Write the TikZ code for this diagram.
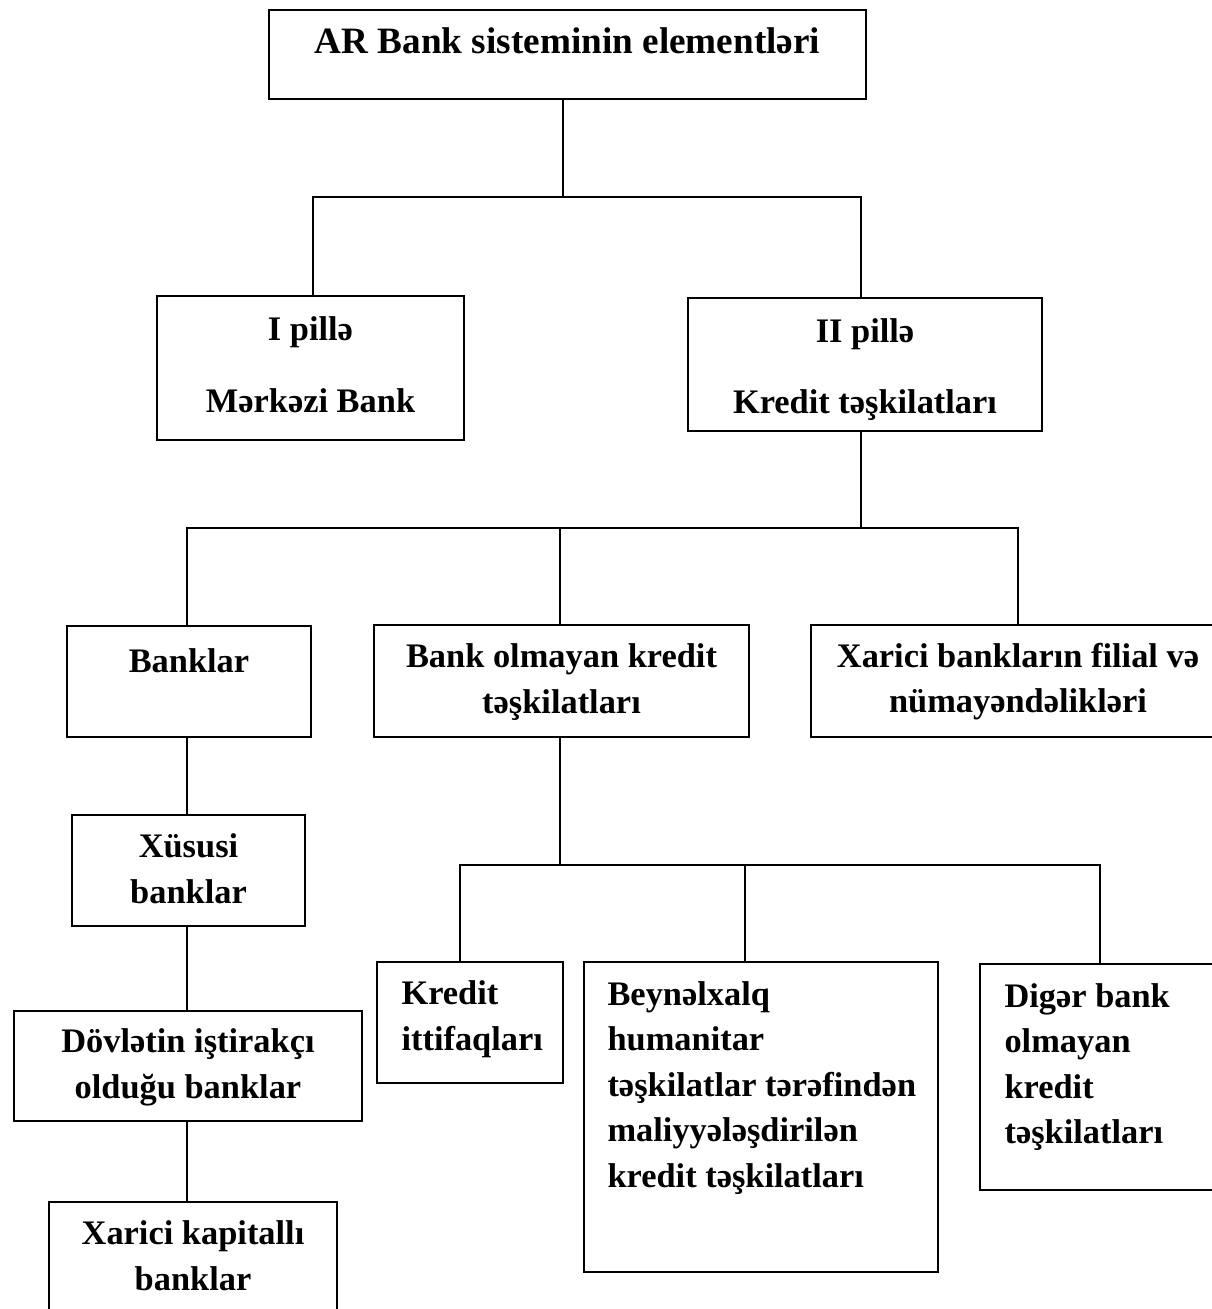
\documentclass[tikz,border=0pt]{standalone}
\usepackage{fontspec}
\setmainfont{Liberation Serif}
\begin{document}
\begin{tikzpicture}[x=1pt,y=-1pt,
        box/.style = {draw,line width=2pt,inner sep=0pt},
        txt/.style = {font=\bfseries\fontsize{34.4}{45.5}\selectfont,align=center,anchor=base},
        ltxt/.style = {font=\bfseries\fontsize{34.4}{45.5}\selectfont,align=left,anchor=base west},
        link/.style = {line width=1.5pt}]
    \clip (0,0) rectangle (1212,1309);

    \node[box,minimum width=597pt,minimum height=89pt]  (top)     at (567.5,54.5) {};
    \node[box,minimum width=307pt,minimum height=144pt] (p1)      at (310.5,368)  {};
    \node[box,minimum width=354pt,minimum height=133pt] (p2)      at (865,364.5)  {};
    \node[box,minimum width=244pt,minimum height=111pt] (banks)   at (189,681.5)  {};
    \node[box,minimum width=375pt,minimum height=112pt] (nonbank) at (561.5,681)  {};
    \node[box,minimum width=414pt,minimum height=112pt] (foreign) at (1018,681)   {};
    \node[box,minimum width=233pt,minimum height=111pt] (private) at (188.5,870.5) {};
    \node[box,minimum width=348pt,minimum height=110pt] (state)   at (188,1066)   {};
    \node[box,minimum width=288pt,minimum height=128pt] (fcap)    at (193,1266)   {};
    \node[box,minimum width=186pt,minimum height=121pt] (union)   at (470,1022.5) {};
    \node[box,minimum width=354pt,minimum height=310pt] (intl)    at (761,1117)   {};
    \node[box,minimum width=250pt,minimum height=226pt] (other)   at (1105,1077)  {};

    % text nodes sit on the baseline of their last line
    \node[txt,font=\bfseries\fontsize{37.2}{45.5}\selectfont] (top-t) at (567.5,53) {AR Bank sisteminin elementləri};
    \node[txt] (p1-t)      at (310.5,412) {I pillə\\[26.5pt]Mərkəzi Bank};
    \node[txt] (p2-t)      at (865,413)   {II pillə\\[25.5pt]Kredit təşkilatları};
    \node[txt] (banks-t)   at (189,672)   {Banklar};
    \node[txt] (nonbank-t) at (561.5,713) {Bank olmayan kredit\\təşkilatları};
    \node[txt] (foreign-t) at (1018,712.5) {Xarici bankların filial və\\nümayəndəlikləri};
    \node[txt] (private-t) at (188.5,903) {Xüsusi\\banklar};
    \node[txt] (state-t)   at (188,1098)  {Dövlətin iştirakçı\\olduğu banklar};
    \node[txt] (fcap-t)    at (193,1290)  {Xarici kapitallı\\banklar};
    \node[ltxt] (union-t)  at (398,1050)  {Kredit\\ittifaqları};
    \node[ltxt] (intl-t)   at (604,1187)  {Beynəlxalq\\humanitar\\təşkilatlar tərəfindən\\maliyyələşdirilən\\kredit təşkilatları};
    \node[ltxt] (other-t)  at (1001,1143.5) {Digər bank\\olmayan\\kredit\\təşkilatları};

    \coordinate (j1)  at (563,197);
    \coordinate (j1l) at (313,197);
    \coordinate (j1r) at (861,197);
    \draw[link] (top.south -| j1) -- (j1);
    \draw[link] (p1.north -| j1l) -- (j1l) -- (j1r) -- (p2.north -| j1r);

    \coordinate (j2)  at (861,528);
    \coordinate (j2l) at (187,528);
    \coordinate (j2m) at (560,528);
    \coordinate (j2r) at (1018,528);
    \draw[link] (p2.south -| j2) -- (j2);
    \draw[link] (banks.north -| j2l) -- (j2l) -- (j2r) -- (foreign.north -| j2r);
    \draw[link] (j2m) -- (nonbank.north -| j2m);

    \coordinate (j3)  at (560,865);
    \coordinate (j3l) at (460,865);
    \coordinate (j3m) at (745,865);
    \coordinate (j3r) at (1100,865);
    \draw[link] (nonbank.south -| j3) -- (j3);
    \draw[link] (union.north -| j3l) -- (j3l) -- (j3r) -- (other.north -| j3r);
    \draw[link] (j3m) -- (intl.north -| j3m);

    \draw[link] (banks.south -| j2l) -- (private.north -| j2l);
    \draw[link] (private.south -| j2l) -- (state.north -| j2l);
    \draw[link] (state.south -| j2l) -- (fcap.north -| j2l);
\end{tikzpicture}
\end{document}
